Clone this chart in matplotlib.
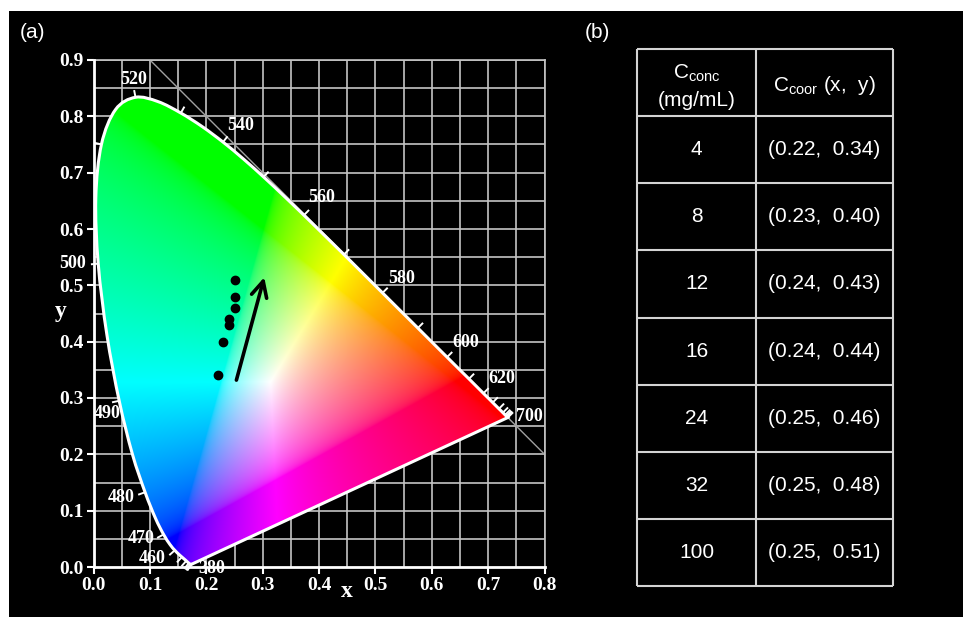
import numpy as np
import matplotlib
matplotlib.use("Agg")
import matplotlib.pyplot as plt
from matplotlib.patches import PathPatch, Rectangle
from matplotlib.path import Path

plt.rcParams['mathtext.fontset'] = 'custom'
plt.rcParams['mathtext.rm'] = 'Liberation Sans'
plt.rcParams['mathtext.it'] = 'Liberation Sans'

# CIE 1931 2-degree spectral locus (x, y), 380-700 nm in 5 nm steps
WAVELENGTHS = list(range(380, 705, 5))
LOCUS_X = [0.1741, 0.1740, 0.1738, 0.1736, 0.1733, 0.1730, 0.1726, 0.1721, 0.1714, 0.1703,
           0.1689, 0.1669, 0.1644, 0.1611, 0.1566, 0.1510, 0.1440, 0.1355, 0.1241, 0.1096,
           0.0913, 0.0687, 0.0454, 0.0235, 0.0082, 0.0039, 0.0139, 0.0389, 0.0743, 0.1142,
           0.1547, 0.1929, 0.2296, 0.2658, 0.3016, 0.3373, 0.3731, 0.4087, 0.4441, 0.4788,
           0.5125, 0.5448, 0.5752, 0.6029, 0.6270, 0.6482, 0.6658, 0.6801, 0.6915, 0.7006,
           0.7079, 0.7140, 0.7190, 0.7230, 0.7260, 0.7283, 0.7300, 0.7311, 0.7320, 0.7327,
           0.7334, 0.7340, 0.7344, 0.7346, 0.7347]
LOCUS_Y = [0.0050, 0.0050, 0.0049, 0.0049, 0.0048, 0.0048, 0.0048, 0.0048, 0.0051, 0.0058,
           0.0069, 0.0086, 0.0109, 0.0138, 0.0177, 0.0227, 0.0297, 0.0399, 0.0578, 0.0868,
           0.1327, 0.2007, 0.2950, 0.4127, 0.5384, 0.6548, 0.7502, 0.8120, 0.8338, 0.8262,
           0.8059, 0.7816, 0.7543, 0.7243, 0.6923, 0.6589, 0.6245, 0.5896, 0.5547, 0.5202,
           0.4866, 0.4544, 0.4242, 0.3965, 0.3725, 0.3514, 0.3340, 0.3197, 0.3083, 0.2993,
           0.2920, 0.2859, 0.2809, 0.2770, 0.2740, 0.2717, 0.2700, 0.2689, 0.2680, 0.2673,
           0.2666, 0.2660, 0.2656, 0.2654, 0.2653]

LABELED_WL = [380, 460, 470, 480, 490, 500, 520, 540, 560, 580, 600, 620, 700]

# Measured emission chromaticity vs. concentration
CONC = ["4", "8", "12", "16", "24", "32", "100"]
CIE_X = [0.22, 0.23, 0.24, 0.24, 0.25, 0.25, 0.25]
CIE_Y = [0.34, 0.40, 0.43, 0.44, 0.46, 0.48, 0.51]

X_TICKS = [0.0, 0.1, 0.2, 0.3, 0.4, 0.5, 0.6, 0.7, 0.8]
Y_TICKS = [0.0, 0.1, 0.2, 0.3, 0.4, 0.5, 0.6, 0.7, 0.8, 0.9]

# label offsets from the locus point (data units)
LABEL_OFFSETS = {380: (0.035, -0.007), 460: (-0.040, -0.014), 470: (-0.040, -0.008),
                 480: (-0.042, -0.009), 490: (-0.021, -0.022), 500: (-0.045, 0.0),
                 520: (-0.003, 0.032), 540: (0.031, 0.029), 560: (0.032, 0.031),
                 580: (0.033, 0.026), 600: (0.033, 0.026), 620: (0.033, 0.027),
                 700: (0.039, 0.001)}

W, H = 963, 617
fig = plt.figure(figsize=(W / 100, H / 100), dpi=100)
fig.patch.set_facecolor('white')
fig.add_artist(Rectangle((9 / W, 0), 1, 1 - 11 / H, transform=fig.transFigure,
                         facecolor='black', edgecolor='none', zorder=-10))

ax = fig.add_axes([93.6 / W, 1 - 567 / H, 451 / W, 507 / H])
ax.set_facecolor('black')
ax.set_xlim(0, 0.8)
ax.set_ylim(0, 0.9)

# grid
grid_c = '#c4c4c4'
for gx in np.arange(0.05, 0.8001, 0.05):
    ax.axvline(gx, color=grid_c, lw=1.2, zorder=1)
for gy in np.arange(0.05, 0.9001, 0.05):
    ax.axhline(gy, color=grid_c, lw=1.2, zorder=1)
ax.plot([0.1, 0.8], [0.9, 0.2], color='#a0a0a0', lw=1.0, zorder=1)

# chromaticity colour field
nx, ny = 640, 720
xs = np.linspace(0, 0.8, nx)
ys = np.linspace(0.0005, 0.9, ny)
Xg, Yg = np.meshgrid(xs, ys)
XYZ = np.stack([Xg / Yg, np.ones_like(Xg), (1 - Xg - Yg) / Yg], axis=-1)
M = np.array([[3.2406, -1.5372, -0.4986],
              [-0.9689, 1.8758, 0.0415],
              [0.0557, -0.2040, 1.0570]])
rgb = np.einsum('ij,...j->...i', M, XYZ)
rgb = np.clip(rgb, 0, None)
rgb /= np.maximum(rgb.max(axis=-1, keepdims=True), 1e-9)
rgb = np.where(rgb <= 0.0031308, 12.92 * rgb, 1.055 * np.power(rgb, 1 / 2.4) - 0.055)
rgb = np.clip(rgb, 0, 1)

lx = np.array(LOCUS_X)
ly = np.array(LOCUS_Y)
verts = np.column_stack([lx, ly])

# smooth outline: Catmull-Rom segments expressed as cubic Bezier curves
n = len(verts)
path_verts = [verts[0]]
codes = [Path.MOVETO]
for i in range(n - 1):
    p_prev = verts[max(i - 1, 0)]
    p0 = verts[i]
    p1 = verts[i + 1]
    p_next = verts[min(i + 2, n - 1)]
    c1 = p0 + (p1 - p_prev) / 6.0
    c2 = p1 - (p_next - p0) / 6.0
    path_verts += [c1, c2, p1]
    codes += [Path.CURVE4] * 3
path_verts += [verts[0], verts[0]]
codes += [Path.LINETO, Path.CLOSEPOLY]
locus_path = Path(np.array(path_verts), codes)
outline = PathPatch(locus_path, facecolor='none', edgecolor='white', lw=2.2, zorder=4)

im = ax.imshow(rgb, extent=[0, 0.8, 0.0005, 0.9], origin='lower',
               interpolation='bilinear', zorder=2, aspect='auto')
ax.add_patch(outline)
im.set_clip_path(outline)

# wavelength ticks
white = np.array([0.3127, 0.3290])
for i, wl in enumerate(WAVELENGTHS):
    if wl % 10:
        continue
    k = 1
    while True:
        a, b = max(i - k, 0), min(i + k, n - 1)
        t = verts[b] - verts[a]
        if np.hypot(*t) > 0.02 or (a == 0 and b == n - 1):
            break
        k += 1
    t = t / np.hypot(*t)
    nrm = np.array([t[1], -t[0]])
    if np.dot(nrm, verts[i] - white) < 0:
        nrm = -nrm
    q0 = verts[i]
    q1 = q0 + nrm * 0.013
    ax.plot([q0[0], q1[0]], [q0[1], q1[1]], color='white', lw=1.4, zorder=5,
            clip_on=False, solid_capstyle='butt')

for wl in LABELED_WL:
    i = WAVELENGTHS.index(wl)
    dx, dy = LABEL_OFFSETS[wl]
    ax.text(lx[i] + dx, ly[i] + dy, str(wl), color='white', fontsize=13,
            family='Liberation Serif', weight='bold', ha='center', va='center',
            zorder=6, clip_on=False)

# data points and trend arrow
ax.plot(CIE_X, CIE_Y, 'o', color='black', ms=6, zorder=7)
ax.annotate('', xy=(0.304, 0.519), xytext=(0.252, 0.327),
            arrowprops=dict(arrowstyle='->', color='black', lw=2.6, mutation_scale=28),
            zorder=7)

# axes styling
ax.set_xticks(X_TICKS)
ax.set_yticks(Y_TICKS)
ax.set_xticklabels([f"{v:.1f}" for v in X_TICKS])
ax.set_yticklabels([f"{v:.1f}" for v in Y_TICKS])
ax.tick_params(direction='out', length=5, width=1.5, color='white', labelcolor='white',
               labelsize=14, pad=2)
for lab in ax.get_xticklabels() + ax.get_yticklabels():
    lab.set_family('Liberation Serif')
    lab.set_weight('bold')
for s in ['left', 'bottom']:
    ax.spines[s].set_color('white')
    ax.spines[s].set_linewidth(2)
    ax.spines[s].set_zorder(8)
for s in ['top', 'right']:
    ax.spines[s].set_color(grid_c)
    ax.spines[s].set_linewidth(1.2)
ax.text(0.449, -0.043, 'x', transform=ax.transData, color='white', fontsize=17,
        family='Liberation Serif', weight='bold', ha='center', va='center', clip_on=False)
ax.text(-0.058, 0.453, 'y', transform=ax.transData, color='white', fontsize=17,
        family='Liberation Serif', weight='bold', ha='center', va='center', clip_on=False)

fig.text(20 / W, 1 - 33 / H, '(a)', color='white', fontsize=15,
         family='Liberation Sans', ha='left', va='center')
fig.text(585 / W, 1 - 33 / H, '(b)', color='white', fontsize=15,
         family='Liberation Sans', ha='left', va='center')

# table of concentrations and coordinates
tx = fig.add_axes([637 / W, 1 - 586 / H, 256 / W, 537 / H])
tx.set_xlim(0, 1)
tx.set_ylim(len(CONC) + 1, 0)
tx.axis('off')
line_c = '#d4d4d4'
col_div = 119 / 256
tx.hlines(range(len(CONC) + 2), 0, 1, color=line_c, lw=1.5, clip_on=False)
tx.vlines([0, col_div, 1], 0, len(CONC) + 1, color=line_c, lw=1.5, clip_on=False)

c1 = col_div / 2
c2 = (col_div + 1) / 2
fs = 15
tx.text(c1, 0.37, r'C$_{\mathrm{conc}}$', color='white', fontsize=fs,
        family='Liberation Sans', ha='center', va='center')
tx.text(c1, 0.76, '(mg/mL)', color='white', fontsize=fs,
        family='Liberation Sans', ha='center', va='center')
tx.text(c2, 0.55, r'C$_{\mathrm{coor}}$ (x,  y)', color='white', fontsize=fs,
        family='Liberation Sans', ha='center', va='center')
for r, (c, xv, yv) in enumerate(zip(CONC, CIE_X, CIE_Y)):
    yc = r + 1.5
    tx.text(c1, yc, c, color='white', fontsize=fs, family='Liberation Sans',
            ha='center', va='center')
    tx.text(c2, yc, f"({xv:.2f},  {yv:.2f})", color='white', fontsize=fs,
            family='Liberation Sans', ha='center', va='center')

fig.savefig('out.png', dpi=100, facecolor=fig.get_facecolor())
